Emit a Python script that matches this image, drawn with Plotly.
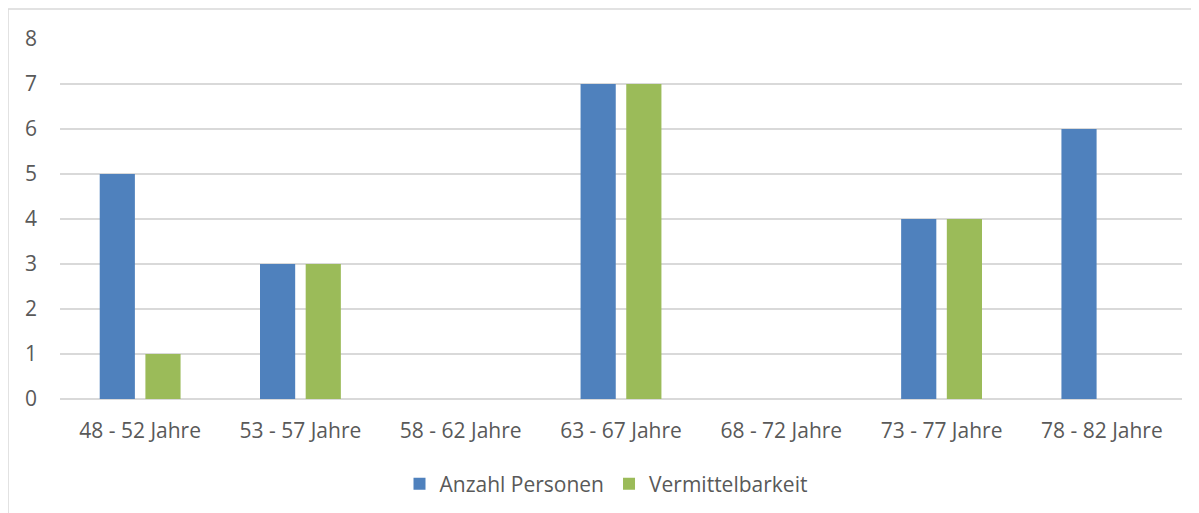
import plotly.graph_objects as go

categories = ["48 - 52 Jahre", "53 - 57 Jahre", "58 - 62 Jahre", "63 - 67 Jahre",
              "68 - 72 Jahre", "73 - 77 Jahre", "78 - 82 Jahre"]
anzahl_personen = [5, 3, 0, 7, 0, 4, 6]
vermittelbarkeit = [1, 3, 0, 7, 0, 4, 0]

OFF = 8  # page body margin
W, H = 1199 - OFF, 513 - OFF
L, R, T, B = 60 - OFF, 17, 39 - OFF, 114
pw, ph = W - L - R, H - T - B

FAM = "'Open Sans', sans-serif"
font = dict(family=FAM, size=21, color="#595959")

fig = go.Figure()
fig.add_trace(go.Bar(x=categories, y=anzahl_personen, name="Anzahl Personen",
                     marker=dict(color="#4f81bd", line=dict(width=0))))
fig.add_trace(go.Bar(x=categories, y=vermittelbarkeit, name="Vermittelbarkeit",
                     marker=dict(color="#9bbb59", line=dict(width=0))))

# chart area border
fig.add_shape(type="rect", xref="paper", yref="paper",
              x0=(8 - OFF - L) / pw, x1=(W + 20 - L) / pw,
              y0=(ph - (H + 20 - T)) / ph, y1=(ph - (9 - OFF - T)) / ph,
              line=dict(color="#d9d9d9", width=1.5), fillcolor="rgba(0,0,0,0)", layer="below")

fig.update_layout(
    width=W, height=H,
    margin=dict(l=L, r=R, t=T, b=B, autoexpand=False),
    paper_bgcolor="white", plot_bgcolor="white",
    barmode="group", bargap=0.43, bargroupgap=0.23,
    font=font,
    showlegend=True,
    legend=dict(orientation="h", x=(606 - OFF) / W, xref="container", xanchor="center",
                y=(513 - 484) / H, yref="container", yanchor="middle",
                font=font, itemwidth=30, tracegroupgap=0),
    xaxis=dict(showgrid=False, zeroline=False, showline=False, ticks="",
               ticklabelstandoff=17, tickfont=font, automargin=False),
    yaxis=dict(range=[0, 8], dtick=1, showgrid=True, gridcolor="#d9d9d9", gridwidth=1.5,
               zeroline=True, zerolinecolor="#d9d9d9", zerolinewidth=1.5,
               showline=False, ticks="", ticklabelstandoff=22, tickfont=font,
               automargin=False),
)

fig.write_html("out.html")
